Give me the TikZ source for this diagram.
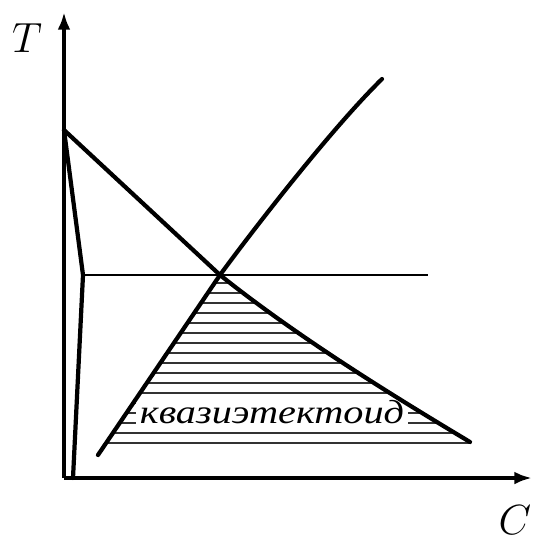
\documentclass[tikz,border=0pt]{standalone}
\usepackage{fontspec}
\newfontfamily\cyrfont{Liberation Serif}
\usepackage{tikz}
\usetikzlibrary{positioning,arrows.meta,calc}

\begin{document}
\begin{tikzpicture}[x=0.01cm, y=-0.01cm,
    axisLine/.style={line width=1.15pt, -{Latex[length=5pt,width=3.6pt]}},
    curveLine/.style={line width=1.2pt, line join=round, line cap=round},
    isoLine/.style={line width=0.7pt},
    hatchLine/.style={line width=0.6pt, draw=black!80},
    axisLabel/.style={font=\fontsize{13}{15}\selectfont, inner sep=0pt},
    regionLabel/.style={font=\cyrfont\itshape\fontsize{9.5}{11}\selectfont, fill=white, inner sep=1pt}
]
    \useasboundingbox (0,0) rectangle (536,538);

    % key points
    \coordinate (O)   at (64,478);
    \coordinate (Ty)  at (64,12);
    \coordinate (Cx)  at (532,478);
    \coordinate (top) at (64,130);
    \coordinate (kink) at (83,275);
    \coordinate (foot) at (73,478);
    \coordinate (eut) at (220,275);
    \coordinate (isoEnd) at (428,275);
    \coordinate (riseStart) at (98,455);
    \coordinate (riseEnd) at (382,79);
    \coordinate (fallEnd) at (470,442);

    % hatching of the two-phase region
    \begin{scope}
        \clip (riseStart) -- (eut) .. controls (300,339) and (400,400) .. (fallEnd)
              -- (470,460) -- (98,460) -- cycle;
        \foreach \yy in {283,293,...,443}
            \draw[hatchLine] (90,\yy) -- (480,\yy);
    \end{scope}
    \node[regionLabel] (quasi) at (272,412) {\resizebox{2.64cm}{\height}{квазиэтектоид}};

    % axes
    \draw[axisLine] (O) -- (Ty);
    \draw[axisLine] (O) -- (Cx);
    \node[axisLabel] (lblT) at (27,38)  {$T$};
    \node[axisLabel] (lblC) at (515,520) {$C$};

    % solvus near the axis
    \draw[curveLine] (top) -- (kink) -- (foot);
    % horizontal line
    \draw[isoLine] (kink) -- (isoEnd);
    % descending line
    \draw[curveLine] (top) -- (eut) .. controls (300,339) and (400,400) .. (fallEnd);
    % rising line
    \draw[curveLine] (riseStart) -- (eut) .. controls (250,234) and (330,130) .. (riseEnd);
\end{tikzpicture}
\end{document}
